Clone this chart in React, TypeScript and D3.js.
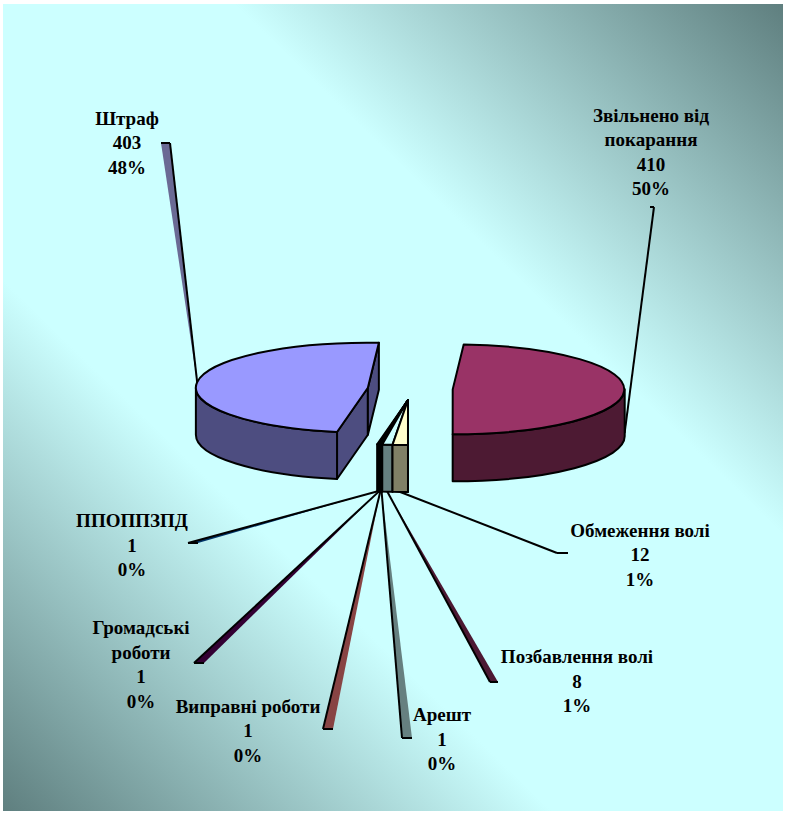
import React from "react";
import * as d3 from "d3";

// ---------- data ----------
const categories = [
  "Штраф",
  "Звільнено від покарання",
  "Обмеження волі",
  "Позбавлення волі",
  "Арешт",
  "Виправні роботи",
  "Громадські роботи",
  "ППОППЗПД",
];
const values = [403, 410, 12, 8, 1, 1, 1, 1];
const percentLabels = ["48%", "50%", "1%", "1%", "0%", "0%", "0%", "0%"];

// ---------- layout / style ----------
const W = 785;
const H = 813;
const O = { x: 408, y: 400 };
const RX = 172;
const RY = 45;
const DEPTH = 47;
const LIFT = 11;
const START = (190.33 * Math.PI) / 180;
const explode = [0.235, 0.26, 0, 0, 0, 0, 0, 0];
const wrapName = [false, true, false, false, false, false, true, false];
const topColors = ["#9999FF", "#993366", "#FFFFCC", "#CCFFFF", "#CCFFFF", "#FF8080", "#660066", "#0066CC"];
const bandColors = ["#6a6a94", "none", "none", "#4C1933", "#668080", "#884444", "#330033", "#003366"];
const anchorDrop = [0, 0.9, 1, 1, 1, 1, 1, 1];
const leaderEnd: [number, number, number][] = [
  [170, 143, -9],
  [654, 207, -4],
  [557, 553, 11],
  [490, 682, 8],
  [402, 738, 10],
  [323, 729, 10],
  [194, 663, 10],
  [188, 543, 10],
];
const labelPos: [number, number][] = [
  [127, 124.5],
  [651, 121.5],
  [640, 536.5],
  [577, 663],
  [442, 721],
  [248, 712.5],
  [141, 634],
  [132, 527],
];
const LINE_H = 24.6;
const FONT = "'Liberation Serif', 'Times New Roman', serif";

function shade(c: string) {
  const r = d3.rgb(c);
  return d3.rgb(r.r * 0.5, r.g * 0.5, r.b * 0.5).formatHex();
}

type Pt = { x: number; y: number };
const P = (c: Pt, a: number, dy = 0): string =>
  `${(c.x + RX * Math.sin(a)).toFixed(2)},${(c.y - RY * Math.cos(a) + dy).toFixed(2)}`;

export default function App() {
  const pie = d3
    .pie<number>()
    .sort(null)
    .value((d) => d)
    .startAngle(START)
    .endAngle(START + 2 * Math.PI);
  const arcs = pie(values);

  const slices = arcs.map((a, i) => {
    const m = (a.startAngle + a.endAngle) / 2;
    const e = explode[i];
    const c = {
      x: O.x + e * RX * Math.sin(m),
      y: O.y - e * RY * Math.cos(m) - (e > 0 ? LIFT : 0),
    };
    return { i, a0: a.startAngle, a1: a.endAngle, m, c };
  });

  const order = [...slices].sort((s1, s2) => {
    const dist = (m: number) => {
      let mm = ((m % (2 * Math.PI)) + 2 * Math.PI) % (2 * Math.PI);
      return Math.abs(mm - Math.PI);
    };
    return dist(s2.m) - dist(s1.m);
  });

  const PI = Math.PI;
  const frontRanges = [
    [PI / 2, (3 * PI) / 2],
    [(5 * PI) / 2, (7 * PI) / 2],
  ];

  const sliceEls = order.map((s) => {
    const { c, a0, a1, i } = s;
    const top = topColors[i];
    const side = shade(top);
    const parts: React.ReactNode[] = [];
    const cx = `${c.x.toFixed(2)},${c.y.toFixed(2)}`;
    const cxd = `${c.x.toFixed(2)},${(c.y + DEPTH).toFixed(2)}`;
    // radial walls
    if (Math.sin(a0) < 0) {
      parts.push(
        <path key="w0" d={`M${cx}L${P(c, a0)}L${P(c, a0, DEPTH)}L${cxd}Z`} fill={side} />
      );
    }
    if (Math.sin(a1) > 0) {
      parts.push(
        <path key="w1" d={`M${cx}L${P(c, a1)}L${P(c, a1, DEPTH)}L${cxd}Z`} fill={side} />
      );
    }
    // outer wall
    frontRanges.forEach(([f0, f1], k) => {
      const s0 = Math.max(a0, f0);
      const s1 = Math.min(a1, f1);
      if (s1 > s0) {
        parts.push(
          <path
            key={"o" + k}
            d={`M${P(c, s0)}A${RX},${RY} 0 0 1 ${P(c, s1)}L${P(c, s1, DEPTH)}A${RX},${RY} 0 0 0 ${P(c, s0, DEPTH)}Z`}
            fill={side}
          />
        );
      }
    });
    const large = a1 - a0 > PI ? 1 : 0;
    parts.push(
      <path key="t" d={`M${cx}L${P(c, a0)}A${RX},${RY} 0 ${large} 1 ${P(c, a1)}Z`} fill={top} />
    );
    return (
      <g key={i} stroke="#000" strokeWidth={2} strokeLinejoin="round">
        {parts}
      </g>
    );
  });

  const leaders = slices.map((s) => {
    const { c, m, i } = s;
    const sx = c.x + RX * Math.sin(m);
    const sy = c.y - RY * Math.cos(m) + anchorDrop[i] * DEPTH;
    const [ex, ey, tw] = leaderEnd[i];
    return (
      <g key={i}>
        {bandColors[i] !== "none" && (
          <path d={`M${sx},${sy}L${ex},${ey}L${ex + tw},${ey}Z`} fill={bandColors[i]} />
        )}
        <line x1={sx} y1={sy} x2={ex} y2={ey} stroke="#000" strokeWidth={2} />
        <line x1={ex} y1={ey} x2={ex + tw} y2={ey} stroke="#000" strokeWidth={2} />
      </g>
    );
  });

  const labels = categories.map((name, i) => {
    let lines: string[] = [name];
    if (wrapName[i]) {
      const k = name.lastIndexOf(" ");
      lines = [name.slice(0, k), name.slice(k + 1)];
    }
    lines = [...lines, String(values[i]), percentLabels[i]];
    const [lx, ly] = labelPos[i];
    return (
      <text key={i} x={lx} y={ly} textAnchor="middle" fontFamily={FONT} fontWeight="bold" fontSize={19} fill="#000">
        {lines.map((t, j) => (
          <tspan key={j} x={lx} y={ly + j * LINE_H}>
            {t}
          </tspan>
        ))}
      </text>
    );
  });

  return (
    <svg
      width={W}
      height={H}
      style={{ position: "absolute", left: 0, top: 0, background: "#fff" }}
    >
      <defs>
        <linearGradient id="bg" gradientUnits="userSpaceOnUse" x1={3} y1={811} x2={783} y2={4}>
          <stop offset="0" stopColor="#5f7f7f" />
          <stop offset="0.34" stopColor="#ccffff" />
          <stop offset="0.66" stopColor="#ccffff" />
          <stop offset="1" stopColor="#5f7f7f" />
        </linearGradient>
      </defs>
      <rect x={3} y={4} width={780} height={807} fill="url(#bg)" />
      {leaders}
      {sliceEls}
      {labels}
    </svg>
  );
}
